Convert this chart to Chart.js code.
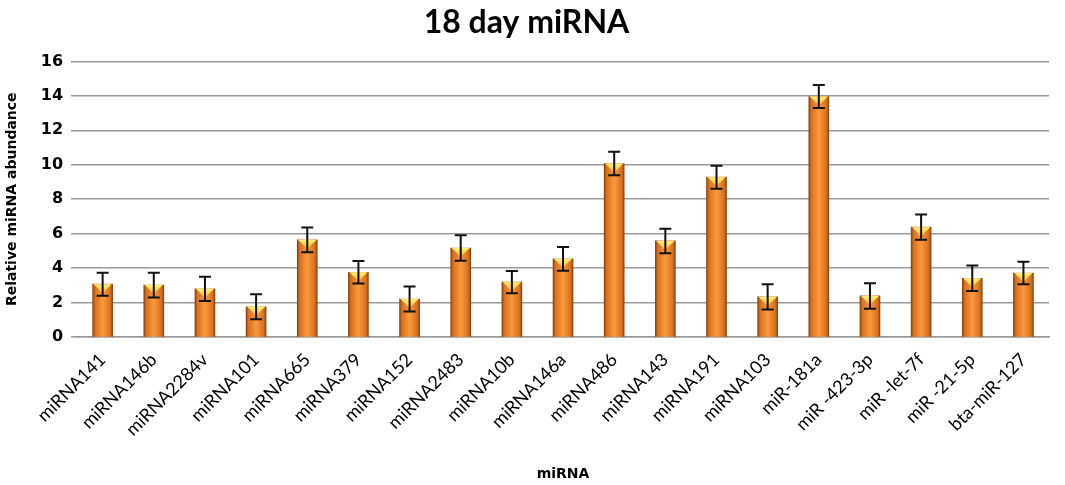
<!DOCTYPE html>
<html>
<head>
<meta charset="utf-8">
<script src="https://cdn.jsdelivr.net/npm/chart.js@4"></script>
<style>
  html, body { margin: 0; padding: 0; background: #fff; }
  #wrap { width: 1065px; height: 485px; }
</style>
</head>
<body>
<div id="wrap"><canvas id="mirnaChart"></canvas></div>
<script>
// ----------------------------- data -----------------------------
let labels = [
  "miRNA141", "miRNA146b", "miRNA2284v", "miRNA101", "miRNA665",
  "miRNA379", "miRNA152", "miRNA2483", "miRNA10b", "miRNA146a",
  "miRNA486", "miRNA143", "miRNA191", "miRNA103", "miR-181a",
  "miR -423-3p", "miR -let-7f", "miR -21-5p", "bta-miR-127",
];
let abundance = [3.07, 3.02, 2.8, 1.76, 5.64, 3.76, 2.21, 5.17, 3.19, 4.54,
  10.07, 5.58, 9.28, 2.33, 13.96, 2.39, 6.38, 3.41, 3.72];
let errorSize = [0.67, 0.72, 0.7, 0.73, 0.72, 0.65, 0.73, 0.74, 0.65, 0.69,
  0.68, 0.71, 0.67, 0.73, 0.67, 0.74, 0.73, 0.74, 0.65];
let yTicks = [0, 2, 4, 6, 8, 10, 12, 14, 16];

// orange bar with darker edges
let barFill = (context) => {
  let chart = context.chart;
  let area = chart.chartArea;
  if (!area || context.type !== "data") return "#f08a2a";
  let x = chart.scales.x.getPixelForValue(context.dataIndex);
  let half = 10;
  let g = chart.ctx.createLinearGradient(x - half, 0, x + half, 0);
  g.addColorStop(0, "#8a4210");
  g.addColorStop(0.12, "#d8701e");
  g.addColorStop(0.5, "#fb9a3c");
  g.addColorStop(0.88, "#d8701e");
  g.addColorStop(1, "#8a4210");
  return g;
};

// yellow bevel on bar tops + error bars
const barExtras = {
  id: "barExtras",
  afterDatasetsDraw(chart) {
    let ctx = chart.ctx;
    let meta = chart.getDatasetMeta(0);
    let y = chart.scales.y;
    ctx.save();
    meta.data.forEach((bar, i) => {
      let w = bar.width;
      let left = bar.x - w / 2;
      let g = ctx.createLinearGradient(0, bar.y, 0, bar.y + 9);
      g.addColorStop(0, "#fff27a");
      g.addColorStop(1, "#f7b52e");
      ctx.fillStyle = g;
      ctx.beginPath();
      ctx.moveTo(left + 1, bar.y);
      ctx.lineTo(left + w - 1, bar.y);
      ctx.lineTo(bar.x, bar.y + 9);
      ctx.closePath();
      ctx.fill();

      let top = y.getPixelForValue(abundance[i] + errorSize[i]);
      let bottom = y.getPixelForValue(abundance[i] - errorSize[i]);
      ctx.strokeStyle = "#111";
      ctx.lineWidth = 2;
      ctx.beginPath();
      ctx.moveTo(bar.x, top);
      ctx.lineTo(bar.x, bottom);
      ctx.moveTo(bar.x - 6, top);
      ctx.lineTo(bar.x + 6, top);
      ctx.moveTo(bar.x - 6, bottom);
      ctx.lineTo(bar.x + 6, bottom);
      ctx.stroke();
    });
    ctx.restore();
  },
};

new Chart(document.getElementById("mirnaChart"), {
  type: "bar",
  data: {
    labels: labels,
    datasets: [
      {
        label: "18 day",
        data: abundance,
        backgroundColor: barFill,
        borderWidth: 0,
        barThickness: 20,
      },
    ],
  },
  plugins: [barExtras],
  options: {
    responsive: true,
    maintainAspectRatio: false,
    animation: false,
    layout: { padding: { left: 4, right: 16, top: 0, bottom: 0 } },
    plugins: {
      legend: { display: false },
      tooltip: { enabled: false },
      title: {
        display: true,
        text: "18 day miRNA",
        color: "#000",
        font: { family: "Lato", size: 32, weight: "bold" },
        padding: { top: 3, bottom: 20 },
      },
    },
    scales: {
      x: {
        grid: { display: false },
        border: { display: true, color: "#999", width: 1.5 },
        ticks: {
          color: "#000",
          font: { family: "Lato", size: 18 },
          maxRotation: 45,
          minRotation: 45,
          autoSkip: false,
          padding: 4,
        },
        title: {
          display: true,
          text: "miRNA",
          color: "#000",
          font: { family: "DejaVu Sans", size: 14, weight: "bold" },
          padding: { top: 22, bottom: 2 },
        },
      },
      y: {
        min: 0,
        max: 16,
        afterBuildTicks: (axis) => {
          axis.ticks = yTicks.map((v) => ({ value: v }));
        },
        grid: { color: "#9a9a9a", lineWidth: 1.5, tickLength: 6 },
        border: { display: false },
        ticks: {
          color: "#000",
          font: { family: "DejaVu Sans", size: 16, weight: "bold" },
          padding: 8,
        },
        title: {
          display: true,
          text: "Relative miRNA abundance",
          color: "#000",
          font: { family: "DejaVu Sans", size: 14, weight: "bold" },
          padding: { top: 0, bottom: 12 },
        },
      },
    },
  },
});
</script>
</body>
</html>
